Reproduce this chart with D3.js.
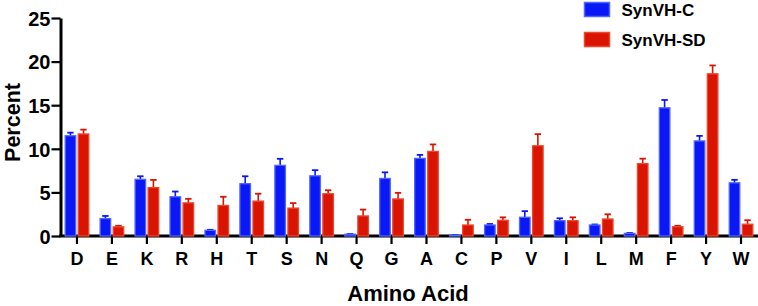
<!DOCTYPE html>
<html><head><meta charset="utf-8">
<script src="https://cdn.jsdelivr.net/npm/d3@7"></script>
<style>body{margin:0;background:#fff}svg{display:block}text{font-family:"Liberation Sans",Arial,Helvetica,sans-serif;font-weight:bold;fill:#000}</style>
</head><body><svg id="c" width="758" height="306"></svg>
<script>
const categories = ["D","E","K","R","H","T","S","N","Q","G","A","C","P","V","I","L","M","F","Y","W"];
const seriesNames = ["SynVH-C","SynVH-SD"];
const synvhC    = [11.5,2.0,6.5,4.5,0.65,6.0,8.1,6.9,0.2,6.6,8.9,0.1,1.26,2.15,1.76,1.26,0.3,14.7,10.9,6.1];
const synvhCErr = [0.35,0.3,0.35,0.6,0.06,0.85,0.75,0.65,0.03,0.7,0.4,0.02,0.12,0.7,0.27,0.06,0.05,0.9,0.58,0.34];
const synvhSD    = [11.7,1.05,5.55,3.8,3.5,4.0,3.2,4.85,2.3,4.25,9.7,1.26,1.8,10.35,1.76,1.95,8.3,1.07,18.6,1.35];
const synvhSDErr = [0.5,0.12,0.88,0.46,1.0,0.85,0.57,0.4,0.73,0.7,0.8,0.6,0.34,1.33,0.38,0.54,0.57,0.1,0.96,0.46];
const yTicks = [0,5,10,15,20,25];
const xTitle = "Amino Acid", yTitle = "Percent";

const fills = ["#0a18f6","#d91400"];
const strokes = ["#4f66ff","#f0462e"];

const svg = d3.select("#c");
const x0 = d3.scaleBand().domain(categories).range([59.5,758.5]).padding(0);
const x1 = d3.scaleBand().domain(seriesNames).range([-12.4,12.4]).paddingInner(0.1);
const y = d3.scaleLinear().domain([0,25]).range([236,18]);

const data = categories.map((c,i)=>({c, vals:[
  {s:seriesNames[0], v:synvhC[i], e:synvhCErr[i], k:0},
  {s:seriesNames[1], v:synvhSD[i], e:synvhSDErr[i], k:1}]}));

const g = svg.append("g");
const grp = g.selectAll("g.grp").data(data).join("g")
  .attr("transform", d=>`translate(${x0(d.c)+x0.bandwidth()/2},0)`);
grp.selectAll("g.err").data(d=>d.vals).join("g").each(function(d){
  const cx = x1(d.s)+x1.bandwidth()/2;
  const sel = d3.select(this);
  sel.append("line").attr("x1",cx).attr("x2",cx).attr("y1",y(d.v)).attr("y2",y(d.v+d.e))
    .attr("stroke",fills[d.k]).attr("stroke-width",1.6);
  sel.append("line").attr("x1",cx-3.2).attr("x2",cx+3.2).attr("y1",y(d.v+d.e)).attr("y2",y(d.v+d.e))
    .attr("stroke",fills[d.k]).attr("stroke-width",1.8);
});
grp.selectAll("rect").data(d=>d.vals).join("rect")
  .attr("x",d=>x1(d.s)+0.6).attr("width",x1.bandwidth()-1.2)
  .attr("y",d=>y(d.v)).attr("height",d=>Math.max(0,y(0)-y(d.v)))
  .attr("fill",d=>fills[d.k]).attr("stroke",d=>strokes[d.k]).attr("stroke-width",1.3);

const yAxis = svg.append("g").attr("transform","translate(60.5,0)")
  .call(d3.axisLeft(y).tickValues(yTicks).tickSize(9).tickSizeOuter(0).tickPadding(1));
yAxis.select(".domain").attr("stroke","#000").attr("stroke-width",3);
yAxis.selectAll(".tick line").attr("stroke","#000").attr("stroke-width",2.2);
yAxis.selectAll(".tick text").attr("font-size","20px").attr("dy","0.36em").attr("fill","#000")
  .attr("font-family",'"Liberation Sans",Arial,sans-serif').attr("font-weight","bold");

const xAxis = svg.append("g").attr("transform","translate(0,236)")
  .call(d3.axisBottom(x0).tickSize(8).tickSizeOuter(0).tickPadding(8));
xAxis.select(".domain").attr("stroke","#000").attr("stroke-width",3).attr("d","M59,0H758");
xAxis.selectAll(".tick line").attr("stroke","#000").attr("stroke-width",2.2);
xAxis.selectAll(".tick text").attr("font-size","18px").attr("dy","0.71em").attr("fill","#000")
  .attr("font-family",'"Liberation Sans",Arial,sans-serif').attr("font-weight","bold");
svg.select("g").raise();

svg.append("text").attr("x",408).attr("y",301).attr("text-anchor","middle").attr("font-size","22px").text(xTitle);
svg.append("text").attr("transform","translate(19.5,122.5) rotate(-90)").attr("text-anchor","middle").attr("font-size","21.5px").text(yTitle);

const leg = svg.append("g");
seriesNames.forEach((s,i)=>{
  leg.append("rect").attr("x",584.5).attr("y",2.5+i*30).attr("width",25).attr("height",14)
    .attr("fill",fills[i]).attr("stroke",strokes[i]).attr("stroke-width",1.5);
  leg.append("text").attr("x",621.5).attr("y",16+i*30).attr("font-size","17px").text(s);
});
</script></body></html>
